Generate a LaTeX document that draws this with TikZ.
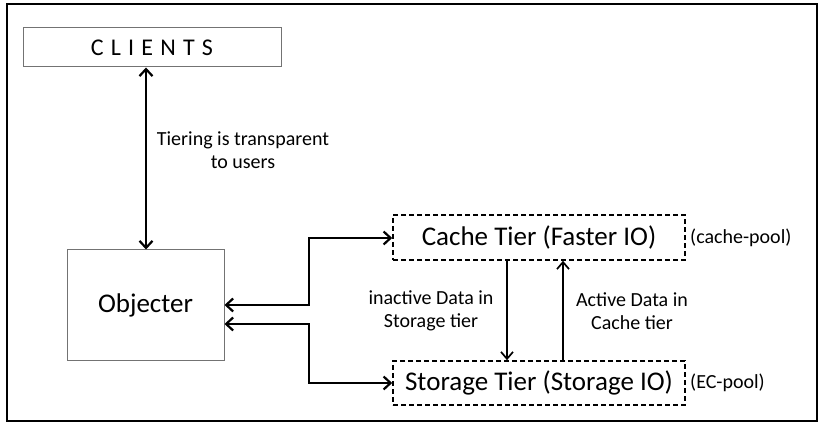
\documentclass[tikz,border=0pt]{standalone}
\usepackage{fontspec}
\setmainfont{Carlito}
\usetikzlibrary{arrows.meta}
\begin{document}
\begin{tikzpicture}[x=1pt,y=-1pt,
  solidbox/.style={draw=black!55,line width=1pt,fill=white},
  dashbox/.style={draw=black,line width=1.6pt,dash pattern=on 5pt off 3pt},
  conn/.style={line width=2.2pt,{Straight Barb[length=7pt,width=13pt,line width=2.2pt]}-{Straight Barb[length=7pt,width=13pt,line width=2.2pt]}},
  oneway/.style={line width=1.7pt,-{Straight Barb[length=7pt,width=12pt,line width=1.7pt]}},
  lbl/.style={font=\fontsize{20}{23.5}\selectfont,align=center},
  big/.style={font=\fontsize{27}{30}\selectfont}]
\useasboundingbox (0,0) rectangle (828,427);
\draw[line width=1.3pt] (7,4) rectangle (817,421);
% nodes
\node[solidbox,minimum width=258pt,minimum height=39pt,inner sep=0pt,font=\fontsize{24}{26}\selectfont] (clients) at (152,47.5) {C\hspace{0.3em}L\hspace{0.3em}I\hspace{0.3em}E\hspace{0.3em}N\hspace{0.3em}T\hspace{0.3em}S};
\node[solidbox,minimum width=157pt,minimum height=111pt,inner sep=0pt,big] (obj) at (145.5,305.5) {Objecter};
\node[dashbox,minimum width=292pt,minimum height=45pt,inner sep=0pt,big] (cache) at (539,237.5) {Cache Tier (Faster IO)};
\node[dashbox,minimum width=292pt,minimum height=44pt,inner sep=0pt,big] (stor) at (539,383) {Storage Tier (Storage IO)};
\node[lbl,anchor=west,inner sep=0pt] (cpool) at (690,238) {(cache-pool)};
\node[lbl,anchor=west,inner sep=0pt] (ecpool) at (690,383) {(EC-pool)};
\node[lbl] (tier) at (243,150) {Tiering is transparent\\to users};
\node[lbl] (inact) at (431,311) {inactive Data in\\Storage tier};
\node[lbl] (act) at (632,311) {Active Data in\\Cache tier};
% coordinates
\coordinate (o1) at (obj.east |- 0,305);
\coordinate (o2) at (obj.east |- 0,324);
\coordinate (c1) at (cache.west |- 0,238);
\coordinate (s1) at (stor.west |- 0,383);
% connectors
\draw[conn] (clients.south -| 146,0) -- (obj.north -| 146,0);
\draw[conn] (o1) -- (309,305) -- (309,238) -- (c1);
\draw[conn] (o2) -- (309,324) -- (309,383) -- (s1);
\draw[oneway] (cache.south -| 507,0) -- (stor.north -| 507,0);
\draw[oneway] (stor.north -| 563,0) -- (cache.south -| 563,0);
\end{tikzpicture}
\end{document}
